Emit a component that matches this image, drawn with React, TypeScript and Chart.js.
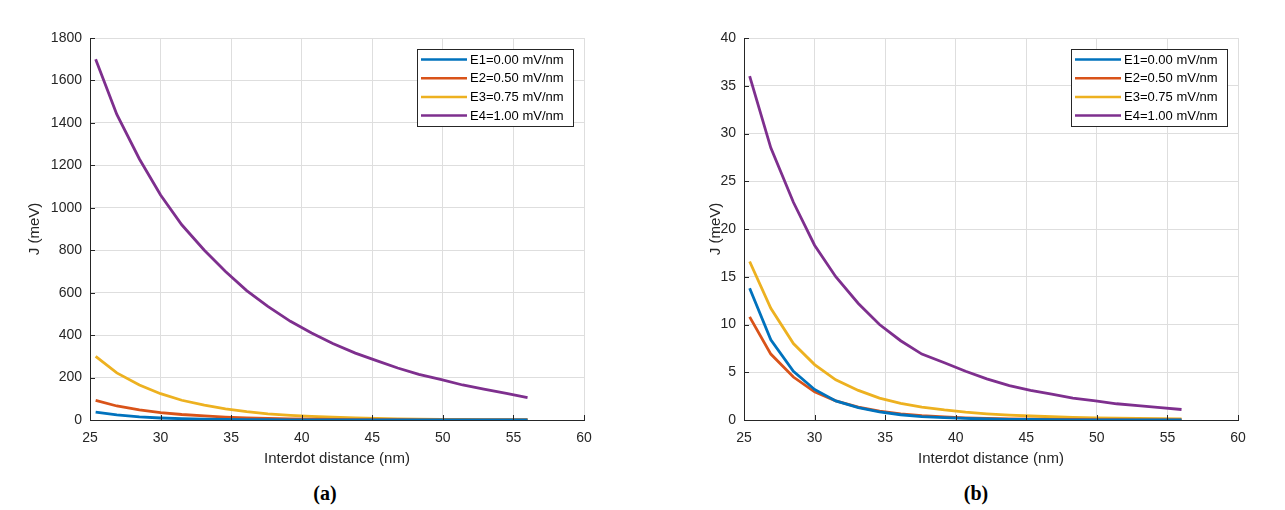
import React, { useEffect, useRef } from "react";
import { Chart, registerables } from "chart.js";
Chart.register(...registerables);

const distances = [25.4, 26.9, 28.5, 30.0, 31.5, 33.1, 34.6, 36.1, 37.6, 39.2, 40.7, 42.2, 43.8, 45.3, 46.8, 48.3, 49.9, 51.4, 52.9, 54.5, 56.0];
const seriesLabels = ["E1=0.00 mV/nm", "E2=0.50 mV/nm", "E3=0.75 mV/nm", "E4=1.00 mV/nm"];
const seriesColors = ["#0072BD", "#D95319", "#EDB120", "#7E2F8E"];

// Panel (a)
const aE1 = [37, 24, 15, 9.5, 6, 4, 2.6, 1.7, 1.1, 0.7, 0.45, 0.3, 0.2, 0.13, 0.08, 0.05, 0.03, 0.02, 0.01, 0.01, 0.005];
const aE2 = [92, 66, 48, 35, 26, 19, 14, 10, 7.5, 5.5, 4, 3, 2.2, 1.6, 1.2, 0.9, 0.7, 0.5, 0.4, 0.3, 0.2];
const aE3 = [300, 222, 165, 124, 93, 70, 52, 39, 29, 22, 17, 13, 10, 7.5, 5.7, 4.3, 3.3, 2.5, 1.9, 1.4, 1.1];
const aE4 = [1700, 1440, 1230, 1060, 920, 800, 700, 610, 535, 465, 410, 360, 315, 280, 245, 215, 190, 165, 145, 125, 105];

// Panel (b)
const bE1 = [13.8, 8.4, 5.1, 3.2, 2.0, 1.3, 0.85, 0.55, 0.36, 0.24, 0.16, 0.11, 0.07, 0.05, 0.03, 0.02, 0.015, 0.01, 0.007, 0.005, 0.003];
const bE2 = [10.8, 6.9, 4.5, 2.95, 2.0, 1.35, 0.92, 0.63, 0.45, 0.32, 0.23, 0.17, 0.12, 0.09, 0.07, 0.05, 0.04, 0.03, 0.02, 0.015, 0.01];
const bE3 = [16.6, 11.7, 8.0, 5.8, 4.2, 3.1, 2.3, 1.75, 1.35, 1.05, 0.82, 0.65, 0.52, 0.42, 0.34, 0.28, 0.23, 0.19, 0.16, 0.13, 0.11];
const bE4 = [36, 28.5, 22.8, 18.3, 15.0, 12.2, 10.0, 8.3, 6.9, 6.0, 5.1, 4.3, 3.6, 3.1, 2.7, 2.3, 2.0, 1.7, 1.5, 1.3, 1.1];

const xAxisTitle = "Interdot distance (nm)";
const yAxisTitle = "J (meV)";

const FONT = '"Liberation Sans", Arial, Helvetica, sans-serif';
const AXIS_COLOR = "#262626";

const matlabDecor = {
  id: "matlabDecor",
  afterDatasetsDraw(chart: any) {
    const { ctx, chartArea: a, scales } = chart;
    ctx.save();
    ctx.strokeStyle = AXIS_COLOR;
    ctx.lineWidth = 1;
    scales.x.ticks.forEach((t: any) => {
      const px = Math.round(scales.x.getPixelForValue(t.value)) + 0.5;
      ctx.beginPath();
      ctx.moveTo(px, a.bottom);
      ctx.lineTo(px, a.bottom - 5);
      ctx.stroke();
    });
    scales.y.ticks.forEach((t: any) => {
      const py = Math.round(scales.y.getPixelForValue(t.value)) + 0.5;
      ctx.beginPath();
      ctx.moveTo(a.left, py);
      ctx.lineTo(a.left + 5, py);
      ctx.stroke();
    });
    // legend box
    const w = 156;
    const h = 77;
    const bx = Math.round(a.right - 11 - w);
    const by = Math.round(a.top + 11);
    ctx.fillStyle = "#ffffff";
    ctx.fillRect(bx, by, w, h);
    ctx.strokeStyle = AXIS_COLOR;
    ctx.lineWidth = 1;
    ctx.strokeRect(bx + 0.5, by + 0.5, w, h);
    ctx.font = `13px ${FONT}`;
    ctx.textBaseline = "middle";
    ctx.textAlign = "left";
    chart.data.datasets.forEach((ds: any, i: number) => {
      const cy = by + 10.5 + i * 18.7;
      ctx.strokeStyle = ds.borderColor;
      ctx.lineWidth = 2.5;
      ctx.beginPath();
      ctx.moveTo(bx + 4, cy);
      ctx.lineTo(bx + 50, cy);
      ctx.stroke();
      ctx.fillStyle = "#000000";
      ctx.fillText(ds.label, bx + 53, cy + 0.5);
    });
    ctx.restore();
  },
};

type PanelProps = {
  series: number[][];
  yMax: number;
  yStep: number;
  yTitlePad: number;
  left: number;
};

function Panel({ series, yMax, yStep, yTitlePad, left }: PanelProps) {
  const ref = useRef<HTMLCanvasElement | null>(null);
  useEffect(() => {
    if (!ref.current) return;
    const chart = new Chart(ref.current, {
      type: "line",
      data: {
        datasets: series.map((vals, i) => ({
          label: seriesLabels[i],
          data: distances.map((x, j) => ({ x, y: vals[j] })),
          borderColor: seriesColors[i],
          backgroundColor: seriesColors[i],
          borderWidth: 2.8,
          pointRadius: 0,
          tension: 0,
          fill: false,
        })),
      },
      options: {
        animation: false,
        responsive: false,
        devicePixelRatio: 1,
        layout: { padding: { top: 38, right: 56, left: 0, bottom: 0 } },
        plugins: { legend: { display: false }, tooltip: { enabled: false } },
        scales: {
          x: {
            type: "linear",
            min: 25,
            max: 60,
            ticks: { stepSize: 5, padding: 10, color: AXIS_COLOR, font: { family: FONT, size: 14 }, maxRotation: 0, callback: (v: any) => String(v) },
            grid: { color: "#dedede", drawTicks: false },
            border: { color: AXIS_COLOR, width: 1 },
            title: { display: true, text: xAxisTitle, color: AXIS_COLOR, font: { family: FONT, size: 15 }, padding: { top: 0, bottom: 12 } },
            afterFit: (s: any) => { s.height = 60; },
          },
          y: {
            type: "linear",
            min: 0,
            max: yMax,
            ticks: { stepSize: yStep, padding: 8, color: AXIS_COLOR, font: { family: FONT, size: 14 }, callback: (v: any) => String(v) },
            grid: { color: "#dedede", drawTicks: false },
            border: { color: AXIS_COLOR, width: 1 },
            title: { display: true, text: yAxisTitle, color: AXIS_COLOR, font: { family: FONT, size: 15 }, padding: { top: yTitlePad, bottom: 0 } },
            afterFit: (s: any) => { s.width = 90; },
          },
        },
      },
      plugins: [matlabDecor],
    } as any);
    return () => chart.destroy();
  }, []);
  return (
    <canvas
      ref={ref}
      width={640}
      height={480}
      style={{ position: "absolute", left, top: 0, width: 640, height: 480 }}
    />
  );
}

const labelStyle: React.CSSProperties = {
  position: "absolute",
  top: 481,
  transform: "translateX(-50%)",
  fontFamily: '"Liberation Serif", "Times New Roman", serif',
  fontWeight: "bold",
  fontSize: 20,
  lineHeight: "24px",
  color: "#000",
};

export default function App() {
  return (
    <div style={{ position: "absolute", left: 0, top: 0, width: 1285, height: 510, background: "#ffffff", overflow: "hidden" }}>
      <Panel series={[aE1, aE2, aE3, aE4]} yMax={1800} yStep={200} yTitlePad={26} left={0} />
      <Panel series={[bE1, bE2, bE3, bE4]} yMax={40} yStep={5} yTitlePad={53} left={654} />
      <div style={{ ...labelStyle, left: 325 }}>(a)</div>
      <div style={{ ...labelStyle, left: 976 }}>(b)</div>
    </div>
  );
}
